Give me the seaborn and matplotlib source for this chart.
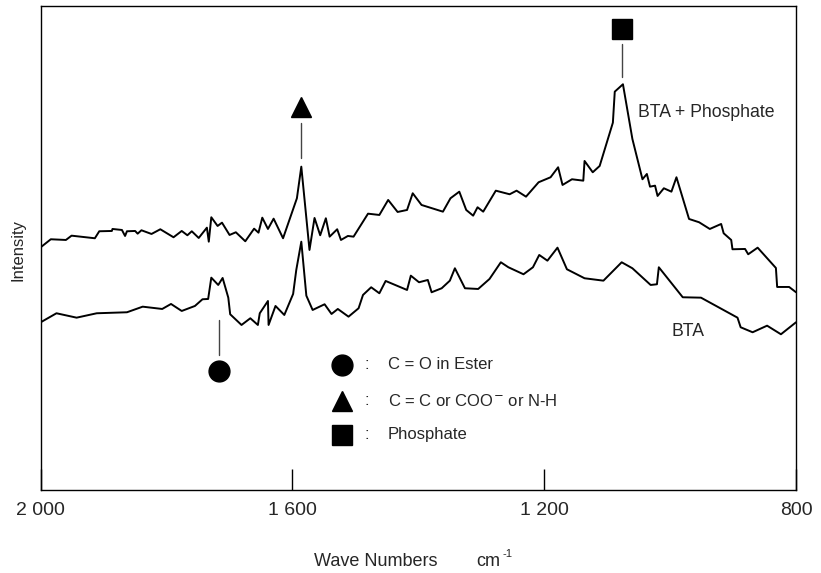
import numpy as np
import pandas as pd
import seaborn as sns
import matplotlib.pyplot as plt

# spectra (wave number cm-1, intensity in arbitrary units)
wn_phos = [2000, 1984, 1960, 1951, 1914, 1907, 1887, 1886, 1871, 1866, 1863, 1850, 1846, 1840,
           1824, 1810, 1789, 1776, 1767, 1760, 1749, 1736, 1733, 1729, 1719, 1712, 1700, 1690,
           1675, 1661, 1654, 1648, 1639, 1630, 1615, 1593, 1586, 1573, 1565, 1556, 1547, 1541,
           1529, 1523, 1512, 1503, 1480, 1462, 1448, 1433, 1418, 1409, 1395, 1361, 1349, 1335,
           1324, 1313, 1306, 1297, 1277, 1255, 1244, 1229, 1209, 1190, 1178, 1171, 1156, 1138,
           1136, 1123, 1112, 1091, 1088, 1075, 1060, 1044, 1037, 1032, 1024, 1020, 1010, 998,
           990, 970, 954, 937, 919, 915, 903, 901, 881, 876, 861, 832, 830, 811, 800]
int_phos = [242.7, 250.7, 250, 254.3, 251.7, 258.7, 259, 261, 260, 254, 258.7, 259, 256.3, 259.7,
            256, 260.7, 252.7, 259, 254.7, 258.7, 252, 262.3, 248.3, 272.7, 264, 267.3, 255, 257.7,
            248.7, 261.3, 257.3, 272.3, 261, 271.3, 251.7, 291.7, 323.3, 240, 272, 254.7, 271.7, 253.3,
            260.7, 250, 254, 253.3, 276.3, 275, 290, 278, 280, 296.7, 285, 278.3, 291.7, 298.3,
            280, 274.3, 282.7, 278.3, 299.3, 295.7, 299.3, 293.3, 307.7, 312.7, 322.7, 305, 310.7, 309.3,
            329, 317.7, 324, 367.3, 398.3, 405.7, 351, 310.7, 316, 303.3, 304.3, 294, 301.7, 298.3,
            312.7, 271, 267.7, 261, 266, 256.7, 250, 240.7, 241, 235.7, 242.3, 222, 203, 203, 197.7]

wn_bta = [2000, 1975, 1943, 1911, 1863, 1838, 1807, 1793, 1776, 1755, 1743, 1734, 1729, 1718,
          1711, 1702, 1699, 1681, 1667, 1655, 1652, 1639, 1638, 1627, 1613, 1599, 1594, 1586,
          1578, 1568, 1549, 1538, 1528, 1511, 1495, 1488, 1475, 1462, 1452, 1418, 1412, 1399,
          1385, 1379, 1363, 1350, 1342, 1326, 1305, 1287, 1269, 1257, 1233, 1218, 1208, 1195,
          1179, 1164, 1136, 1106, 1077, 1060, 1031, 1021, 1018, 980, 951, 893, 888, 869, 846,
          824, 800]
int_bta = [167.7, 176.7, 172.3, 176.7, 177.7, 183.3, 181, 186, 179, 184, 190.7, 191, 212.3, 205,
           212, 192.3, 175.7, 165, 171.7, 165, 176.7, 189, 165, 184, 175, 196, 220, 248.3,
           194.3, 180, 185.7, 176, 181, 173.3, 181.7, 195, 202.7, 196.7, 209, 200, 214.3, 207.7,
           210, 197.7, 201.7, 209.3, 221.7, 201.7, 201, 211, 227.7, 222.7, 215.7, 222.7, 235, 229.3,
           242.3, 220.7, 211.7, 209.3, 227.7, 221.7, 205, 205.7, 222.7, 192.7, 192.3, 172.3, 162.7, 157.7, 164.3,
           155.7, 167.7]

# band markers: wave number, intensity of symbol, leader line span
band_markers = ["o", "^", "s"]
band_wn = [1717, 1587, 1077]
band_y = [119, 383, 461]
band_line = [(135, 170), (332, 367), (413, 446)]
band_text = ["C = O in Ester", "C = C or COO$^{-}$ or N-H", "Phosphate"]
legend_y = [125, 89, 55]

df_phos = pd.DataFrame({"wn": wn_phos, "intensity": int_phos})
df_bta = pd.DataFrame({"wn": wn_bta, "intensity": int_bta})

sns.set_theme(style="white")
plt.rcParams["font.family"] = ["Liberation Sans", "DejaVu Sans"]

fig = plt.figure(figsize=(8.21, 5.73), dpi=100)
ax = fig.add_axes([0.0496, 0.1449, 0.920, 0.8447])

sns.lineplot(data=df_phos, x="wn", y="intensity", sort=False, estimator=None,
             color="black", lw=1.4, ax=ax)
sns.lineplot(data=df_bta, x="wn", y="intensity", sort=False, estimator=None,
             color="black", lw=1.4, ax=ax)

for m, w, y, (y0, y1) in zip(band_markers, band_wn, band_y, band_line):
    ax.plot([w, w], [y0, y1], color="#444444", lw=1.0)
    ax.plot(w, y, marker=m, color="black", ms=15, ls="none")

# key for the symbols
for m, txt, y in zip(band_markers, band_text, legend_y):
    ax.plot(1522, y, marker=m, color="black", ms=15, ls="none")
    ax.text(1482, y, ":", fontsize=12, va="center", ha="center")
    ax.text(1449, y, txt, fontsize=12, va="center", ha="left")

ax.text(1051, 377, "BTA + Phosphate", fontsize=12.7, va="center", ha="left")
ax.text(998, 158, "BTA", fontsize=12.7, va="center", ha="left")

ax.set_xlim(2000, 800)
ax.set_ylim(0, 484)
ax.set_xticks([2000, 1600, 1200, 800])
ax.set_xticklabels(["2 000", "1 600", "1 200", "800"])
ax.set_yticks([])
ax.tick_params(axis="x", direction="in", length=15, width=1, color="black",
               labelsize=14, pad=9, bottom=True)
ax.set_xlabel("")
ax.set_ylabel("")
for sp in ax.spines.values():
    sp.set_color("black")
    sp.set_linewidth(1.0)

fig.text(438 / 821, 1 - 562 / 573, "Wave Numbers", fontsize=13, ha="right", va="center")
fig.text(476 / 821, 1 - 562 / 573, "cm", fontsize=13, ha="left", va="center")
fig.text(502 / 821, 1 - 554 / 573, "-1", fontsize=8, ha="left", va="center")
fig.text(18 / 821, 1 - 250 / 573, "Intensity", fontsize=12, rotation=90, ha="center", va="center")

fig.savefig("out.png", dpi=100)
